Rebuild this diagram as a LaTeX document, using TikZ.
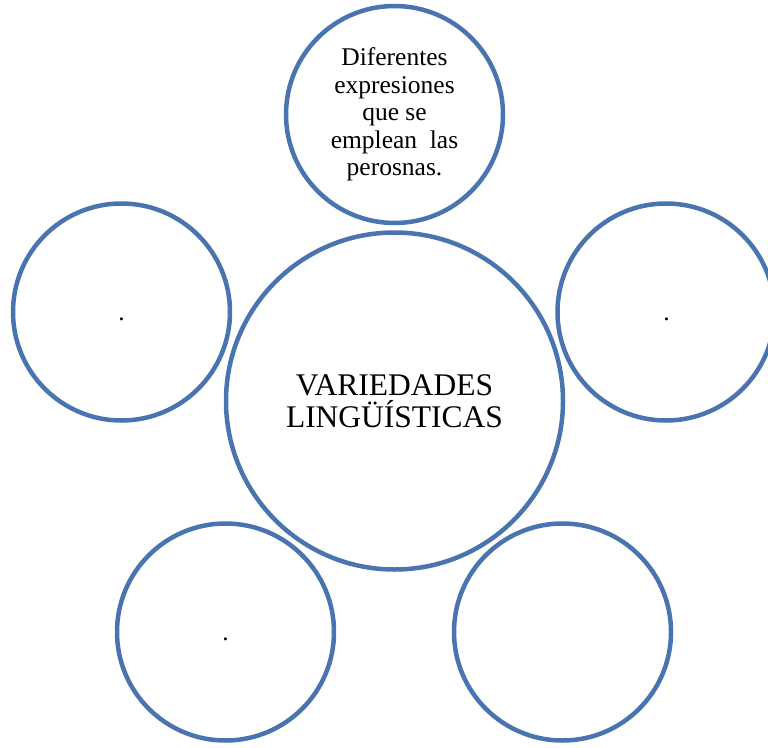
\documentclass[tikz,border=0pt]{standalone}
\usepackage{fontspec}
\setmainfont{Liberation Serif}
\definecolor{ringblue}{HTML}{4A74B0}
\begin{document}
\begin{tikzpicture}[x=1pt,y=-1pt,
  ring/.style={circle,draw=ringblue,line width=4.5pt,fill=white,inner sep=0pt,align=center},
  smallring/.style={ring,minimum size=217pt,font=\fontsize{25.5}{27.5}\selectfont},
  bigring/.style={ring,minimum size=337pt,font=\fontsize{31.5}{31.7}\selectfont},
  dotlabel/.style={font=\fontsize{25.5}{27.5}\selectfont,anchor=base,inner sep=0pt}]
\useasboundingbox (0,0) rectangle (768,747);
\node[bigring] (c) at (394.5,401) {VARIEDADES\\LINGÜÍSTICAS};
\node[smallring] (t) at (394.5,114.5) {Diferentes\\expresiones\\que se\\emplean\ \ las\\perosnas.};
\node[smallring] (l) at (121.5,312) {};
\node[smallring] (r) at (666,312) {};
\node[smallring] (bl) at (225.5,632) {};
\node[smallring] (br) at (562.5,632) {};
\node[dotlabel] (ld) at (121.5,320) {.};
\node[dotlabel] (rd) at (666.5,320) {.};
\node[dotlabel] (bd) at (225.5,640) {.};
\end{tikzpicture}
\end{document}
